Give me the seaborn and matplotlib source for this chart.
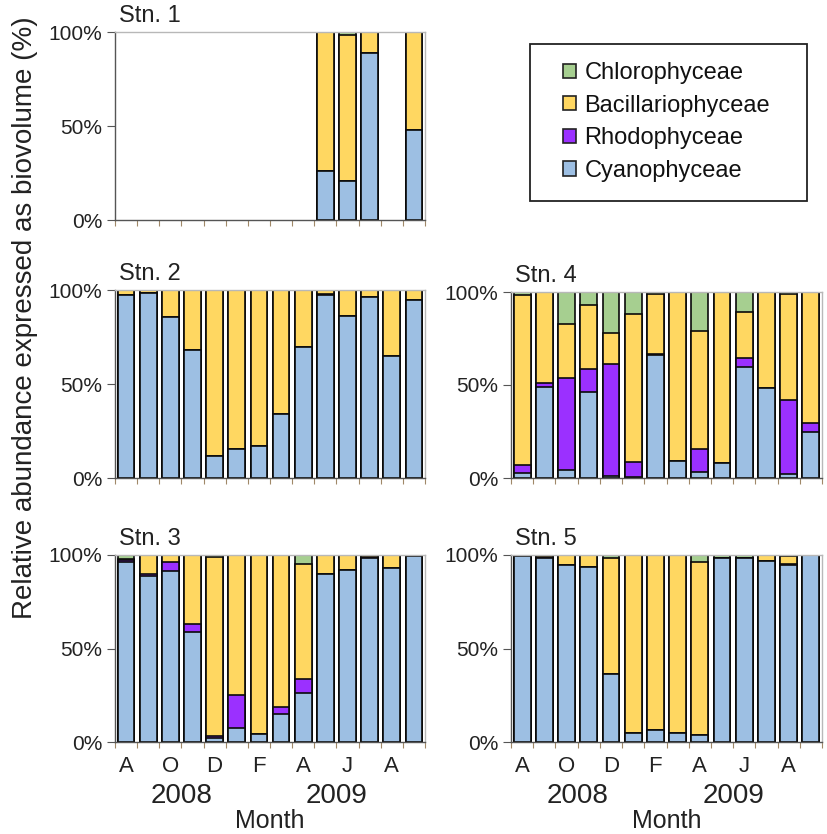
import numpy as np
import pandas as pd
import matplotlib
matplotlib.use("Agg")
import matplotlib.pyplot as plt
import seaborn as sns
from matplotlib.patches import Patch, Rectangle

# Sampling months, Aug 2008 - Sep 2009
months = ["2008-08", "2008-09", "2008-10", "2008-11", "2008-12", "2009-01", "2009-02",
          "2009-03", "2009-04", "2009-05", "2009-06", "2009-07", "2009-08", "2009-09"]
month_letters = ["A", "S", "O", "N", "D", "J", "F", "M", "A", "M", "J", "J", "A", "S"]
years = ["2008", "2009"]

groups = ["Cyanophyceae", "Rhodophyceae", "Bacillariophyceae", "Chlorophyceae"]
colors = {"Cyanophyceae": "#9DBFE3", "Rhodophyceae": "#9B30FF",
          "Bacillariophyceae": "#FFD761", "Chlorophyceae": "#A6CF90"}

nan = np.nan
# Relative biovolume (%) per class and month
stn1_cyan = [nan, nan, nan, nan, nan, nan, nan, nan, nan, 26.0, 21.0, 89.0, nan, 48.0]
stn1_rhodo = [nan, nan, nan, nan, nan, nan, nan, nan, nan, 0.0, 0.0, 0.0, nan, 0.0]
stn1_bac = [nan, nan, nan, nan, nan, nan, nan, nan, nan, 74.0, 77.5, 11.0, nan, 52.0]
stn1_chloro = [nan, nan, nan, nan, nan, nan, nan, nan, nan, 0.0, 1.5, 0.0, nan, 0.0]

stn2_cyan = [97.3, 98.6, 85.8, 68.1, 11.5, 15.6, 17.0, 34.2, 69.6, 97.3, 86.4, 96.5, 65.0, 94.7]
stn2_rhodo = [0, 0, 0, 0, 0, 0, 0, 0, 0, 0.8, 0, 0, 0, 0]
stn2_bac = [2.7, 1.4, 14.2, 31.9, 88.5, 84.4, 83.0, 65.8, 30.4, 1.9, 13.6, 3.5, 35.0, 5.3]
stn2_chloro = [0, 0, 0, 0, 0, 0, 0, 0, 0, 0, 0, 0, 0, 0]

stn3_cyan = [96.4, 88.8, 91.4, 58.9, 2.1, 7.5, 4.3, 14.8, 26.4, 90.0, 92.0, 98.2, 93.2, 99.5]
stn3_rhodo = [0.9, 1.0, 4.7, 4.0, 1.1, 17.5, 0, 3.8, 7.5, 0, 0, 0.5, 0, 0]
stn3_bac = [0.7, 10.2, 3.9, 37.1, 95.9, 75.0, 95.7, 81.4, 61.3, 10.0, 8.0, 1.3, 6.8, 0.5]
stn3_chloro = [2.0, 0, 0, 0, 0.9, 0, 0, 0, 4.8, 0, 0, 0, 0, 0]

stn4_cyan = [2.5, 49.1, 4.1, 46.4, 0.9, 0.3, 65.9, 9.3, 3.0, 8.0, 59.5, 48.2, 2.3, 25.0]
stn4_rhodo = [4.6, 2.2, 49.5, 12.2, 60.2, 8.3, 0.7, 0, 12.5, 0, 4.8, 0, 39.7, 4.8]
stn4_bac = [91.5, 48.7, 29.1, 34.3, 16.9, 79.8, 32.5, 90.7, 63.6, 92.0, 25.0, 51.8, 57.1, 70.2]
stn4_chloro = [1.4, 0, 17.3, 7.1, 22.0, 11.6, 0.9, 0, 20.9, 0, 10.7, 0, 0.9, 0]

stn5_cyan = [99.5, 98.2, 94.6, 93.8, 36.3, 4.8, 6.3, 4.8, 3.6, 98.2, 98.2, 96.9, 94.6, 100.0]
stn5_rhodo = [0, 0.7, 0, 0, 0, 0, 0, 0, 0, 0, 0, 0, 0.5, 0]
stn5_bac = [0.5, 1.1, 5.4, 6.2, 61.9, 95.2, 93.7, 95.2, 92.8, 0, 0, 3.1, 4.3, 0]
stn5_chloro = [0, 0, 0, 0, 1.8, 0, 0, 0, 3.6, 1.8, 1.8, 0, 0.6, 0]

stations = {
    "Stn. 1": (stn1_cyan, stn1_rhodo, stn1_bac, stn1_chloro),
    "Stn. 2": (stn2_cyan, stn2_rhodo, stn2_bac, stn2_chloro),
    "Stn. 3": (stn3_cyan, stn3_rhodo, stn3_bac, stn3_chloro),
    "Stn. 4": (stn4_cyan, stn4_rhodo, stn4_bac, stn4_chloro),
    "Stn. 5": (stn5_cyan, stn5_rhodo, stn5_bac, stn5_chloro),
}

sns.set_style("ticks")
plt.rcParams["font.family"] = ["Liberation Sans", "DejaVu Sans"]
plt.rcParams["text.color"] = "#222222"

W, H = 827, 834
fig = plt.figure(figsize=(W / 100, H / 100), dpi=100)


def px_axes(x0, y0, x1, y1):
    return fig.add_axes([x0 / W, 1 - y1 / H, (x1 - x0) / W, (y1 - y0) / H])


boxes = {
    "Stn. 1": (115, 32, 425, 220),
    "Stn. 2": (115, 290, 425, 478),
    "Stn. 3": (115, 555, 425, 742),
    "Stn. 4": (511, 292, 822, 478),
    "Stn. 5": (511, 555, 822, 742),
}
bottom_row = {"Stn. 3", "Stn. 5"}


def draw_station(ax, name, values):
    cyan, rhodo, bac, chloro = (np.array(v, dtype=float) for v in values)
    df = pd.DataFrame({"month": months, "Cyanophyceae": cyan, "Rhodophyceae": rhodo,
                       "Bacillariophyceae": bac, "Chlorophyceae": chloro})
    # cumulative tops of each stacked segment
    df["top_cyan"] = df["Cyanophyceae"]
    df["top_rhodo"] = df["top_cyan"] + df["Rhodophyceae"]
    df["top_bac"] = df["top_rhodo"] + df["Bacillariophyceae"]
    df["top_chloro"] = df["top_bac"] + df["Chlorophyceae"]
    layers = [("top_chloro", "Chlorophyceae"), ("top_bac", "Bacillariophyceae"),
              ("top_rhodo", "Rhodophyceae"), ("top_cyan", "Cyanophyceae")]
    for col, grp in layers:
        sub = df.dropna(subset=[col])
        sns.barplot(data=sub, x="month", y=col, order=months, color=colors[grp],
                    saturation=1, width=0.76, edgecolor="#0A0A0A", linewidth=1.2,
                    errorbar=None, ax=ax)
    ax.set_xlim(-0.5, 13.5)
    ax.set_ylim(0, 100)
    ax.set_xlabel("")
    ax.set_ylabel("")
    ax.set_yticks([0, 50, 100])
    ax.set_yticklabels(["0%", "50%", "100%"])
    ax.tick_params(axis="y", length=6, width=0.8, color="#555555", pad=3,
                   labelsize=15, labelcolor="#222222")
    ax.set_xticks(np.arange(0, 14, 2))
    ax.set_xticks(np.arange(-0.5, 14, 1), minor=True)
    ax.tick_params(axis="x", which="major", length=0, pad=10, labelsize=16,
                   labelcolor="#222222")
    ax.tick_params(axis="x", which="minor", length=4, width=0.8, color="#A08868")
    if name in bottom_row:
        ax.set_xticklabels(month_letters[::2])
        trans = ax.get_xaxis_transform()
        ax.text(2.5, -0.29, years[0], transform=trans, ha="center", va="center",
                fontsize=20)
        ax.text(9.5, -0.29, years[1], transform=trans, ha="center", va="center",
                fontsize=20)
        ax.text(0.5, -0.42, "Month", transform=ax.transAxes, ha="center",
                va="center", fontsize=18)
    else:
        ax.set_xticklabels([])
    for side in ("left", "bottom"):
        ax.spines[side].set_color("#555555")
        ax.spines[side].set_linewidth(1.0)
    for side in ("top", "right"):
        ax.spines[side].set_visible(True)
        ax.spines[side].set_color("#B8B8B8")
        ax.spines[side].set_linewidth(1.0)
    ax.text(0.012, 1.025, name, transform=ax.transAxes, ha="left", va="bottom",
            fontsize=17)


for name, values in stations.items():
    ax = px_axes(*boxes[name])
    draw_station(ax, name, values)

fig.text(25 / W, 1 - 318 / H, "Relative abundance expressed as biovolume (%)",
         rotation=90, ha="center", va="center", fontsize=20)

# legend frame drawn separately so the entries can sit well inside it
fig.patches.append(Rectangle((530 / W, 1 - 201 / H), 277 / W, 157 / H,
                             transform=fig.transFigure, facecolor="white",
                             edgecolor="#222222", linewidth=1.3, zorder=0))
handles = [Patch(facecolor=colors[g], edgecolor="#222222", linewidth=1.2, label=g)
           for g in groups[::-1]]
leg = fig.legend(handles=handles, loc="upper left",
                 bbox_to_anchor=(563 / W, 1 - 62 / H),
                 frameon=False, fontsize=17,
                 handlelength=0.55, handleheight=0.55, handletextpad=0.35,
                 labelspacing=0.45, borderpad=0, borderaxespad=0)
for t in leg.get_texts():
    t.set_color("#111111")

fig.savefig("out.png", dpi=100)
